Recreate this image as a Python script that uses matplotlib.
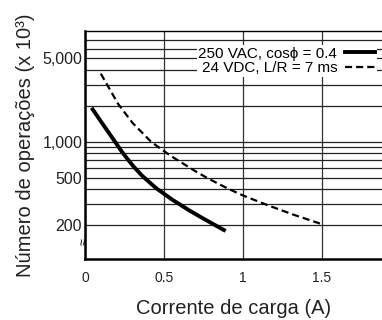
import matplotlib.pyplot as plt
from matplotlib.lines import Line2D
from matplotlib.ticker import FixedLocator, NullFormatter

plt.rcParams['font.family'] = ['Liberation Sans', 'DejaVu Sans']

# curva AC (250 VAC, cos phi = 0.4)
ac_x = [0.042, 0.105, 0.19, 0.232, 0.27, 0.31, 0.365, 0.45, 0.55, 0.654, 0.75, 0.89]
ac_y = [1920, 1450, 1000, 830, 715, 615, 515, 410, 330, 270, 228, 180]

# curva DC (24 VDC, L/R = 7 ms)
dc_x = [0.10, 0.21, 0.30, 0.418, 0.54, 0.70, 0.78, 0.90, 1.00, 1.16, 1.32, 1.49]
dc_y = [3700, 2065, 1440, 1000, 766, 566, 493, 409, 356, 294, 246, 207]

xticks = [0, 0.5, 1, 1.5]
xtick_labels = ['0', '0.5', '1', '1.5']
yticks = [200, 500, 1000, 5000]
ytick_labels = ['200', '500', '1,000', '5,000']
ygrid_minor = [300, 400, 600, 700, 800, 900, 2000, 3000, 4000, 6000, 7000]

fig = plt.figure(figsize=(3.82, 3.20), dpi=100)
ax = fig.add_axes([85/382, 61/320, 297/382, 228/320])

ax.plot(ac_x, ac_y, color='black', lw=2.8, solid_capstyle='butt',
        solid_joinstyle='round', zorder=3)
ax.plot(dc_x, dc_y, color='black', lw=1.6, dashes=(3.2, 1.8), zorder=3)

ax.set_yscale('log')
ax.set_xlim(0, 1.88)
ax.set_ylim(105, 8400)

ax.yaxis.set_major_locator(FixedLocator(yticks))
ax.set_yticklabels(ytick_labels)
ax.yaxis.set_minor_locator(FixedLocator(ygrid_minor))
ax.yaxis.set_minor_formatter(NullFormatter())
ax.set_xticks(xticks)
ax.set_xticklabels(xtick_labels)

ax.tick_params(axis='y', which='both', length=0, pad=2, labelsize=11.5, colors='#222222')
ax.tick_params(axis='x', length=0, pad=9, labelsize=10, colors='#222222')

ax.grid(True, which='both', axis='y', color='#222222', lw=0.9)
ax.grid(True, which='major', axis='x', color='#333333', lw=0.9)

for s in ['left', 'bottom']:
    ax.spines[s].set_linewidth(1.8)
ax.spines['top'].set_linewidth(1.0)
ax.spines['right'].set_visible(False)

ax.set_xlabel('Corrente de carga (A)', fontsize=14.5, color='#222222', labelpad=10)
ax.set_ylabel('Número de operações (x 10³)', fontsize=14.5, color='#222222', labelpad=5)

# simbolo de quebra do eixo
ax.text(0, 146, '≈', rotation=90, ha='center', va='center', fontsize=9,
        transform=ax.get_yaxis_transform(), zorder=4)

handles = [Line2D([], [], color='black', lw=2.8),
           Line2D([], [], color='black', lw=1.6, dashes=(3.2, 1.8))]
leg = ax.legend(handles, ['250 VAC, cosϕ = 0.4', '24 VDC, L/R = 7 ms'],
                loc='upper right', bbox_to_anchor=(377/382, 1 - 45/320),
                bbox_transform=fig.transFigure, markerfirst=False,
                fontsize=11, frameon=True, fancybox=False, framealpha=1,
                edgecolor='none', facecolor='white', borderpad=0.1,
                labelspacing=0.05, handlelength=2.0, handletextpad=0.5,
                borderaxespad=0)
leg.set_zorder(5)

fig.savefig('out.png', dpi=100)
